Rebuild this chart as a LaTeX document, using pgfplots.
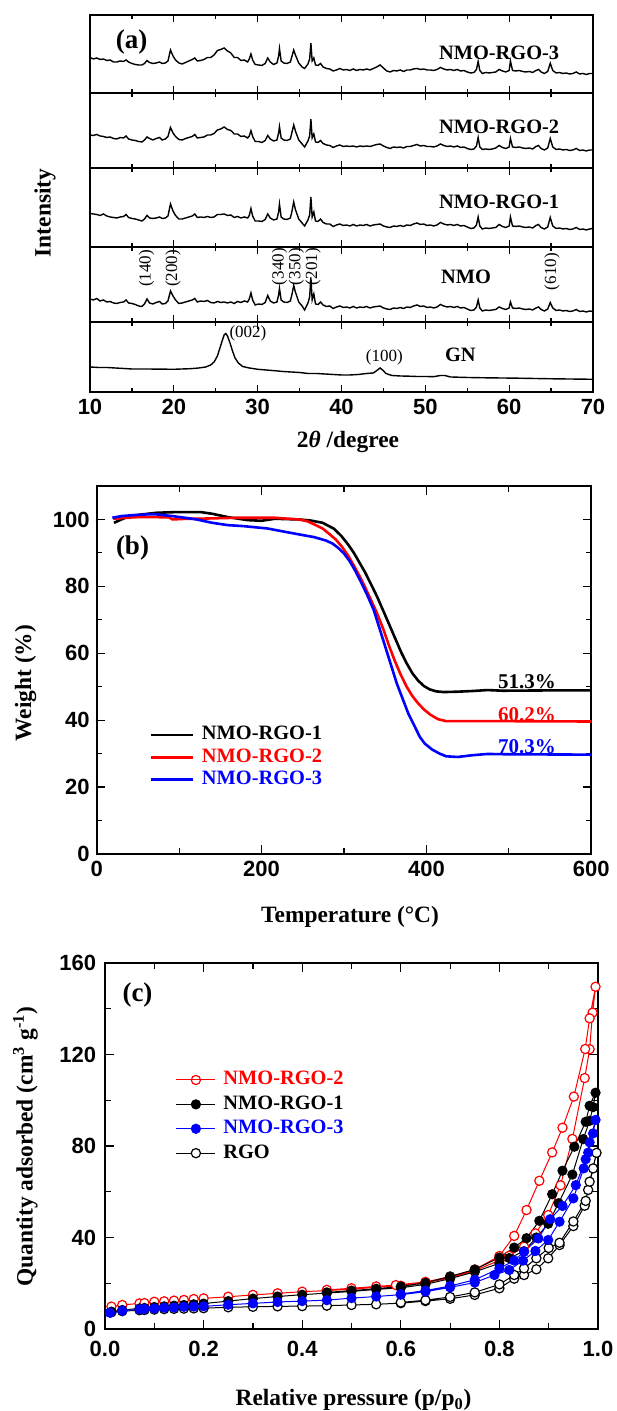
\documentclass[border=0pt]{standalone}
\usepackage{fontspec}
\setmainfont{Liberation Serif}
\newfontfamily\arialfont{Liberation Sans}
\usepackage{pgfplots}
\pgfplotsset{compat=1.18}
\usepackage{pgfplotstable}

\newcommand\lblfont{\fontsize{11.7}{14}\selectfont\bfseries}
\newcommand\tickfont{\arialfont\bfseries\fontsize{11}{13}\selectfont}
\newcommand\legfont{\fontsize{10.2}{12}\selectfont\bfseries}
\newcommand\panelfont{\fontsize{13.5}{16}\selectfont\bfseries}
\newcommand\annfont{\fontsize{8.5}{10}\selectfont}

% XRD patterns (heights in local panel units)
\pgfplotstableread{
x nmo r1 r2 r3
10.0 23 33.5 33 35.5
10.4 22 33 32.5 34
10.8 23.5 32.5 33.5 35
11.2 21 31.5 32 33.5
11.6 22 33 31.5 34
12.0 20 31 30.5 32.5
12.4 20.5 30 31 33
12.8 19 29.5 29.5 31
13.2 18.5 29 29 31
13.6 19.5 30 30.5 32
14.0 20 30.5 30 31.5
14.3 22 32.5 32 33
14.6 19 29.5 29 31
15.0 18.5 28.5 28 29.5
15.4 17.5 28 27.5 28.5
15.8 16 27 26.5 28
16.2 15.5 26 26 28
16.5 18 28 28 29.5
16.8 23 31.5 31 32.5
17.1 19 29 29.5 30.5
17.5 18 28.5 28 29.5
17.9 19.5 29 29.5 30
18.3 20.5 30 30.5 31
18.6 18 28.5 28 29.5
19.0 18.5 29 29 30
19.3 21 31 31.5 32
19.6 31 43 40.5 43
19.9 26 36 35 37
20.2 22 31.5 31.5 33
20.6 18.5 28 28.5 30
21.0 19 28 28 29
21.4 20 29 29.5 30.5
21.8 21 30 30.5 32
22.2 22 31 31.5 33.5
22.5 23.5 33 33.5 35
22.8 20 29.5 30 32
23.2 21 30 30.5 32.5
23.6 20.5 29.5 31 33.5
24.0 21.5 30.5 33 35.5
24.4 19.5 29.5 33 35.5
24.8 19 30 34.5 38
25.2 20.5 32.5 38 42.5
25.6 19.5 32.5 39 43.5
26.0 20 33 41 45
26.4 19 31.5 38.5 42
26.8 20 32 37.5 40
27.2 18.5 29.5 34 35.5
27.6 20.5 30.5 34 35.5
28.0 19.5 29 31.5 32.5
28.4 21 30 32 33
28.8 20 29 30 31
29.0 23 31.5 32 34
29.2 29 38.5 37.3 39
29.4 22 31 31.5 33
29.7 17 26 26.5 28.5
30.1 18 26 26.5 28
30.5 17.5 25.5 25.5 27.5
30.9 19.5 27.5 27.5 29.5
31.2 26.5 33 32.5 35
31.5 21 29 29 31
31.9 19 27 27 28.5
32.3 20 28 28 30
32.5 27 35 35 37
32.6 33.5 43 41.3 44.5
32.8 22 30 30 32
33.1 20 28 28 30
33.5 19.5 27.5 27.5 29.5
33.9 21 29 29 31
34.1 28 36 36 37
34.3 36.5 45 43 43
34.5 30 37.5 37 38
34.9 20 28 28 30
35.3 16 24 24 26
35.6 12 21 21 24.5
36.0 19 27 27 29
36.2 25 32 32 34
36.35 44.5 50 48.7 49.7
36.5 22 30 30 32
36.7 28 35 34 35
36.9 18 26 26 28
37.2 17.5 25.5 25.5 27.5
37.5 20 28 27.5 29.5
37.8 17 24.5 24.5 26
38.2 15.5 23 23 24.5
38.6 16 23 22.5 24
39.0 13.5 20.5 20.5 22
39.4 15 22 22 23
39.8 16 23 23 24.5
40.2 14.5 21.5 21.5 23
40.6 15 22 22 23.5
41.0 14 21 21.5 22.5
41.4 15.5 22.5 22 24
41.8 14 21 21 22.5
42.2 15 22 22 23.5
42.6 14.5 21.5 21.5 23
43.0 15.5 22.5 22 24
43.4 14 21 21.5 23
43.8 15 22 22.5 24.5
44.2 15.5 22.5 23.5 26
44.6 16 23 24 28
45.0 14 21 22 25
45.4 13 20 20.5 22
45.8 12.5 19.5 19.5 21
46.2 14 21 21 22.5
46.6 13.5 20.5 20.5 22
47.0 14.5 21.5 21 23
47.4 13.5 20.5 20 21.5
47.8 15 22 21.5 23
48.2 14.5 21.5 21.5 23
48.6 16 23 22.5 24
49.0 17 24 23.5 24.5
49.4 15.5 22.5 22 23.5
49.8 16 23 22.5 24
50.2 14.5 21.5 21.5 23
50.6 15 22 21.5 23
51.0 14 21 21 22.5
51.4 15 22 22 23.5
51.8 17.5 24.5 24 25.5
52.2 16 23 22.5 24
52.6 15 22 21.5 23
53.0 15.5 22.5 22 23.5
53.4 14.5 21.5 21 22.5
53.8 15.5 22.5 22 23.5
54.2 14 21 20.5 22
54.6 14.5 21.5 21 22.5
55.0 13 20 19.5 21
55.4 11.5 18.5 18.5 20
55.8 12 19 19 20.5
56.1 15 22 22 23.5
56.3 22 30 30.5 31.5
56.5 14 21 21 22.5
56.8 11 18 18.5 19.5
57.2 12 19 19 20.5
57.6 11.5 18.5 18.5 20
58.0 12 19 19 20.5
58.4 12.5 19.5 20 21
58.8 15 22.5 22.5 23.5
59.2 13.5 20.5 20.5 22
59.6 12.5 19.5 19.5 21
60.0 14 21 21 22.5
60.15 20 30 29.5 32
60.4 14 21 21 22.5
60.8 13.5 20.5 20.5 22
61.2 14 21 21 22.5
61.6 13 20 20 21.5
62.0 12.5 19.5 19.5 21
62.4 13 20 20 21.5
62.8 12 19 19 20.5
63.2 14 21.5 21.5 22.5
63.5 15 22.5 22.5 23.5
63.8 12.5 19.5 19.5 21
64.2 11 18 18 19.5
64.6 13 20 20 21.5
64.9 19.5 29.5 29.5 29.7
65.2 14 21 21 22.5
65.6 11.5 18.5 18.5 20
66.0 12 19 19 20.5
66.4 11 18 18 19.5
66.8 11.5 18.5 18.5 20
67.2 10.5 17.5 17.5 19
67.6 11 18 18 19.5
68.0 12.5 19.5 19.5 21
68.4 10.5 17.5 17.5 19
68.8 11 18 18 19.5
69.2 10 17 17 18.5
69.6 11 18 18 19.5
70.0 10.5 18.5 18 19.5
}\xrd

\pgfplotstableread{
x y
10 25
11 24.5
12 24.5
13 24
14 23.5
15 23
16 23
17 23
18 22.8
19 22.8
20 22.7
21 23
22 23.3
23 24
23.8 25
24.4 27
24.8 30
25.2 36
25.5 44
25.8 52
26.0 57
26.2 58.5
26.4 56
26.7 49
27.0 41
27.3 34
27.7 29
28.2 25.5
29 24
30 22.7
31 22
32 21.3
33 20.5
34 20
35 19.5
36 18.5
37 18.5
38 18
39 17.5
40 17
41 17
42 17.5
43 18.5
43.8 19
44.3 22
44.6 24
44.9 22
45.3 18.5
46 16.5
47 16
48 15.8
49 15.5
50 15.5
51 15.3
51.8 16.5
52.3 16.5
53 15
55 14.5
57 14.2
59 14
61 13.8
63 13.5
65 13.2
67 13
70 12.7
}\gn

% TGA
\pgfplotstableread{
x y
21 99.0
30 100.0
40 101.0
55 101.5
73 102.0
97 102.2
126 102.2
140 101.7
159 100.7
183 99.8
200 99.6
216 100.2
245 100.0
259 99.7
274 99.0
288 97.2
297 95.0
305 92.5
312 90.0
319 87.0
326 84.0
333 80.5
340 77.0
348 72.5
355 68.5
362 64.5
369 60.5
376 57.0
383 54.0
390 51.8
397 50.2
404 49.2
412 48.6
421 48.4
436 48.5
455 48.7
474 49.0
493 48.8
550 48.9
600 48.9
}\tgaA
\pgfplotstableread{
x y
20 100.2
35 100.5
50 100.7
70 100.7
88 100.6
92 100.0
110 100.2
121 100.2
169 100.5
216 100.5
245 100.0
255 99.5
264 98.5
274 97.3
283 95.5
290 94.0
297 92.0
305 89.2
312 86.2
319 83.0
326 79.5
333 75.8
340 72.0
348 67.0
355 62.0
362 57.5
369 53.5
376 50.0
383 47.2
390 45.0
397 43.2
405 41.6
414 40.3
424 39.7
455 39.7
500 39.7
600 39.6
}\tgaB
\pgfplotstableread{
x y
19 100.5
30 101.0
45 101.3
60 101.5
73 101.5
92 101.0
110 100.4
121 100.0
140 99.0
159 98.3
178 98.0
207 97.3
235 96.0
264 94.7
278 93.7
286 92.8
293 91.5
300 89.8
307 87.5
314 84.5
321 81.1
328 77.5
336 73.0
343 67.5
350 62.0
357 56.5
364 51.0
371 46.5
378 42.0
385 38.5
392 35.0
398 33.0
407 31.2
416 30.0
424 29.2
438 29.0
455 29.5
474 29.9
500 29.8
600 29.7
}\tgaC

% Isotherms
\pgfplotstableread{
x y
0.013 9.8
0.035 10.5
0.07 11.2
0.08 11.3
0.10 11.9
0.12 12.1
0.14 12.4
0.16 12.7
0.18 13.1
0.20 13.4
0.25 14.1
0.30 14.9
0.35 15.6
0.40 16.3
0.45 16.8
0.50 17.4
0.55 18.2
0.60 18.9
0.65 20.2
0.70 22.3
0.75 25.5
0.80 30.0
0.82 32.0
0.85 36.0
0.873 41.8
0.899 49.8
0.924 62.8
0.948 83.1
0.973 109.7
0.983 122.3
0.989 138.3
0.995 149.6
0.983 135.8
0.974 122.4
0.951 101.6
0.928 88.0
0.907 77.2
0.881 64.8
0.855 52.0
0.830 40.7
0.800 31.9
0.750 26.0
0.700 22.8
0.650 20.6
0.590 19.2
0.550 18.6
0.500 17.8
0.450 17.1
}\isoB
\pgfplotstableread{
x y
0.013 7.6
0.035 8.3
0.07 9.0
0.08 9.2
0.10 9.6
0.12 9.9
0.14 10.2
0.16 10.5
0.18 10.8
0.20 11.1
0.25 12.2
0.30 13.3
0.35 14.2
0.40 15.0
0.45 15.7
0.50 16.4
0.55 17.3
0.60 18.0
0.65 19.5
0.70 22.0
0.75 25.0
0.80 28.7
0.82 31.0
0.85 34.0
0.875 40.0
0.899 46.0
0.92 55.0
0.948 67.5
0.97 83.0
0.983 91.0
0.99 97.0
0.995 103.3
0.983 97.6
0.975 90.6
0.952 79.7
0.928 69.2
0.907 58.9
0.881 47.3
0.855 39.7
0.83 35.6
0.80 31.2
0.75 26.0
0.70 23.0
0.65 20.2
0.60 18.6
0.55 17.6
0.50 16.8
0.45 16.0
}\isoA
\pgfplotstableread{
x y
0.01 7.1
0.035 8.0
0.07 8.6
0.08 8.8
0.10 9.0
0.12 9.3
0.14 9.4
0.16 9.7
0.18 9.8
0.20 9.9
0.25 10.6
0.30 11.2
0.35 11.8
0.40 12.2
0.45 12.6
0.50 13.5
0.55 14.2
0.60 15.0
0.65 16.3
0.70 18.2
0.75 20.3
0.79 23.6
0.82 25.8
0.848 29.9
0.873 34.1
0.899 38.9
0.922 46.9
0.95 57.1
0.971 70.2
0.98 77.1
0.99 85.5
0.995 91.4
0.983 81.6
0.975 74.2
0.955 62.9
0.928 53.8
0.903 48.0
0.879 39.6
0.85 33.8
0.83 29.9
0.80 26.5
0.75 21.5
0.70 18.8
0.65 16.8
0.60 15.3
}\isoC
\pgfplotstableread{
x y
0.013 7.3
0.035 7.8
0.07 8.2
0.08 8.3
0.10 8.5
0.12 8.7
0.14 8.8
0.16 8.9
0.18 9.0
0.20 9.1
0.25 9.5
0.30 9.7
0.35 9.9
0.40 10.0
0.45 10.2
0.50 10.5
0.55 10.8
0.60 11.3
0.65 12.2
0.70 13.2
0.75 14.9
0.80 17.8
0.83 22.0
0.85 23.6
0.875 26.1
0.899 30.9
0.922 36.7
0.95 45.0
0.973 53.9
0.98 60.8
0.99 70.2
0.997 77.0
0.983 64.4
0.975 56.0
0.95 47.0
0.922 37.7
0.90 35.4
0.875 30.9
0.85 26.5
0.83 23.6
0.80 19.5
0.75 16.0
0.70 14.0
0.65 12.6
0.60 11.6
}\isoR

\pgfplotsset{
  common/.style={scale only axis, anchor=south west,
    axis line style={line width=0.8pt},
    every tick/.style={black, line width=0.6pt},
    ticklabel style={font=\tickfont},
    /pgf/number format/assume math mode=true,
  },
  xrd/.style 2 args={common, at={(45pt,#1)}, width=251.5pt, height=#2,
    xmin=10, xmax=70, ymin=0,
    xtick={10,20,...,70}, minor xtick={15,25,...,65},
    xticklabels={}, ytick=\empty, minor ytick={15,30,45,60,75},
    major tick length=3.3pt, minor tick length=2pt,
  },
}

\begin{document}
\begin{tikzpicture}
\useasboundingbox (0pt,0pt) rectangle (308pt,705.5pt);

% ---------------- panel (a)
\begin{axis}[xrd={659pt}{39pt}, ymax=78]
\addplot[black, line width=0.7pt] table[x=x,y=r3] {\xrd};
\end{axis}
\begin{axis}[xrd={621.5pt}{37.5pt}, ymax=75]
\addplot[black, line width=0.7pt] table[x=x,y=r2] {\xrd};
\end{axis}
\begin{axis}[xrd={582pt}{39.5pt}, ymax=79]
\addplot[black, line width=0.7pt] table[x=x,y=r1] {\xrd};
\end{axis}
\begin{axis}[xrd={544.5pt}{37.5pt}, ymax=75, clip=false]
\addplot[black, line width=0.7pt] table[x=x,y=nmo] {\xrd};
\node[rotate=90, font=\annfont] at (axis cs:16.75,53.7) {(140)};
\node[rotate=90, font=\annfont] at (axis cs:19.9,53.7) {(200)};
\node[rotate=90, font=\annfont] at (axis cs:32.6,55.3) {(340)};
\node[rotate=90, font=\annfont] at (axis cs:34.6,55.3) {(350)};
\node[rotate=90, font=\annfont] at (axis cs:36.6,55.3) {(201)};
\node[rotate=90, font=\annfont] at (axis cs:65.1,50.3) {(610)};
\end{axis}
\begin{axis}[xrd={509.5pt}{35pt}, ymax=70, xticklabels={10,20,30,40,50,60,70}, clip=false]
\addplot[black, line width=0.7pt] table[x=x,y=y] {\gn};
\node[anchor=west, font=\annfont, inner sep=0pt] at (axis cs:26.6,58.7) {(002)};
\node[font=\annfont, inner sep=0pt] at (axis cs:45.1,34.7) {(100)};
\end{axis}
\node[font=\panelfont] at (65.8pt,684.7pt) {(a)};
\node[font=\legfont, anchor=west] at (216pt,679pt) {NMO-RGO-3};
\node[font=\legfont, anchor=west] at (216pt,642pt) {NMO-RGO-2};
\node[font=\legfont, anchor=west] at (216pt,604.7pt) {NMO-RGO-1};
\node[font=\legfont, anchor=west] at (217pt,567pt) {NMO};
\node[font=\legfont, anchor=west] at (219pt,528pt) {GN};
\node[font=\lblfont, rotate=90] at (22.5pt,599pt) {Intensity};
\node[font=\lblfont] at (174pt,484.5pt) {2\textit{θ} /degree};

% ---------------- panel (b)
\begin{axis}[common, at={(48.35pt,278.5pt)}, width=247.3pt, height=184pt,
  xmin=0, xmax=600, ymin=0, ymax=110,
  xtick={0,200,400,600}, minor xtick={100,300,500},
  ytick={0,20,...,100}, minor ytick={10,30,...,90},
  legend style={at={(0.0936,0.36)}, anchor=north west, draw=none, fill=none,
    font=\legfont, row sep=2.2pt,
    nodes={inner sep=0pt, text height=7pt, text depth=2pt},
    /tikz/every odd column/.append style={column sep=4pt}},
  legend cell align=left,
  legend image code/.code={\draw[#1] (0pt,0pt) -- (21pt,0pt);},
]
\addplot[black, line width=1.3pt] table {\tgaA};
\addlegendentry{NMO-RGO-1}
\addplot[red, line width=1.3pt] table {\tgaB};
\addlegendentry{\textcolor{red}{NMO-RGO-2}}
\addplot[blue, line width=1.3pt] table {\tgaC};
\addlegendentry{\textcolor{blue}{NMO-RGO-3}}
\end{axis}
\node[font=\panelfont] at (66.25pt,431.3pt) {(b)};
\node[font=\fontsize{10.5}{12}\selectfont\bfseries, anchor=west, text=black] at (245.5pt,364.7pt) {51.3\%};
\node[font=\fontsize{10.5}{12}\selectfont\bfseries, anchor=west, text=red] at (245.5pt,348pt) {60.2\%};
\node[font=\fontsize{10.5}{12}\selectfont\bfseries, anchor=west, text=blue] at (245.5pt,332.2pt) {70.3\%};
\node[font=\lblfont, rotate=90] at (12.75pt,364pt) {Weight (\%)};
\node[font=\lblfont] at (175pt,247.2pt) {Temperature (°C)};

% ---------------- panel (c)
\begin{axis}[common, at={(52.5pt,41pt)}, width=246.5pt, height=183pt,
  xmin=0, xmax=1, ymin=0, ymax=160,
  xtick={0,0.2,0.4,0.6,0.8,1}, xticklabels={0.0,0.2,0.4,0.6,0.8,1.0},
  ticklabel style={inner sep=1pt},
  xticklabel style={yshift=-4.8pt},
  yticklabel style={xshift=-3.3pt},
  minor xtick={0.1,0.3,0.5,0.7,0.9},
  ytick={0,40,...,160}, minor ytick={20,60,100,140},
  legend style={at={(0.1298,0.717)}, anchor=north west, draw=none, fill=none,
    font=\legfont, row sep=3.2pt,
    nodes={inner sep=0pt, text height=7pt, text depth=2pt},
    /tikz/every odd column/.append style={column sep=4pt}},
  legend cell align=left,
  legend image code/.code={\draw[mark repeat=2,mark phase=2,#1] plot coordinates {(0pt,0pt) (10pt,0pt) (19.5pt,0pt)};},
  mark size=2.3pt,
]
\addlegendimage{red, line width=0.5pt, mark=o, mark options={fill=white, line width=0.6pt}}
\addlegendentry{\textcolor{red}{NMO-RGO-2}}
\addlegendimage{black, line width=0.5pt, mark=*, mark options={fill=black}}
\addlegendentry{NMO-RGO-1}
\addlegendimage{blue, line width=0.5pt, mark=*, mark options={fill=blue}}
\addlegendentry{\textcolor{blue}{NMO-RGO-3}}
\addlegendimage{black, line width=0.5pt, mark=*, mark options={fill=white, line width=0.6pt}}
\addlegendentry{RGO}
\addplot[forget plot, black, line width=0.5pt, mark=*, mark options={fill=white, line width=0.6pt}] table {\isoR};
\addplot[forget plot, red, line width=0.5pt, mark=*, mark options={fill=white, line width=0.6pt}] table {\isoB};
\addplot[forget plot, black, line width=0.5pt, mark=*, mark options={fill=black}] table {\isoA};
\addplot[forget plot, blue, line width=0.5pt, mark=*, mark options={fill=blue}] table {\isoC};
\end{axis}
\node[font=\panelfont] at (68.75pt,208pt) {(c)};
\node[font=\lblfont, rotate=90] at (12.75pt,132.2pt) {Quantity adsorbed (cm\textsuperscript{3} g\textsuperscript{-1})};
\node[font=\lblfont] at (176.8pt,5.5pt) {Relative pressure (p/p\textsubscript{0})};
\end{tikzpicture}
\end{document}
